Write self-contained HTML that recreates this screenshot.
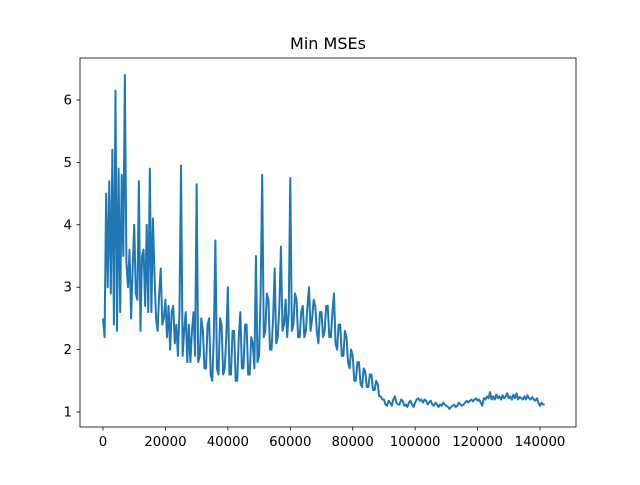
<!DOCTYPE html>
<html><head><meta charset="utf-8"><style>
body{margin:0;background:#fff;}
svg text{font-family:"DejaVu Sans","Liberation Sans",sans-serif;font-size:13.3px;fill:#000;}
</style></head><body>
<svg id="chart" width="640" height="480">
<rect width="640" height="480" fill="#fff"/>
<text x="328" y="49" text-anchor="middle" style="font-size:16px">Min MSEs</text>
<g id="plot"></g>
<rect x="80" y="58" width="496" height="369" fill="none" stroke="#000" stroke-width="0.8"/>
</svg>
<script>
const xTicks=[0,20000,40000,60000,80000,100000,120000,140000];
const yTicks=[1,2,3,4,5,6];
const xStep=500;
const mse=[
2.5,2.2,4.5,3.0,4.7,2.9,5.2,2.4,6.15,2.3,
4.9,2.6,4.8,3.5,6.4,3.4,3.0,3.6,2.5,3.3,
4.0,2.9,2.8,4.7,2.3,3.5,3.6,2.7,4.0,2.6,
4.9,2.6,4.1,3.2,2.5,2.3,2.9,3.3,2.4,2.5,
2.8,2.2,2.7,2.0,2.6,2.7,2.1,2.4,1.9,2.6,
4.95,1.9,2.3,2.6,1.8,2.4,1.8,2.3,2.6,1.9,
4.65,1.8,1.9,2.5,2.3,1.7,1.7,2.4,2.5,1.6,
1.5,2.2,3.75,1.7,1.6,2.5,2.4,1.6,1.7,2.2,
3.0,1.6,1.6,2.3,2.3,1.5,1.5,2.2,2.6,1.7,
1.7,2.4,2.4,1.6,1.6,2.2,2.1,1.7,3.5,1.8,
1.9,2.9,4.8,2.2,2.3,2.9,2.8,2.0,2.0,2.5,
3.3,2.1,2.2,2.7,3.65,2.3,2.4,2.8,2.2,2.6,
4.75,2.3,2.4,2.9,2.8,2.2,2.2,2.6,2.7,2.2,
2.3,2.7,3.0,2.3,2.5,2.8,2.7,2.3,2.1,2.6,
2.6,2.2,2.3,2.7,2.7,2.2,2.2,2.6,2.9,2.1,
2.0,2.4,2.4,1.9,1.9,2.3,2.2,1.8,1.7,2.0,
1.9,1.5,1.5,1.8,1.8,1.45,1.4,1.7,1.65,1.4,
1.4,1.6,1.6,1.35,1.35,1.5,1.45,1.25,1.25,1.2,
1.2,1.12,1.1,1.18,1.15,1.1,1.2,1.25,1.15,1.12,
1.12,1.2,1.18,1.1,1.12,1.08,1.15,1.18,1.12,1.08,
1.15,1.2,1.22,1.18,1.2,1.15,1.2,1.18,1.12,1.15,
1.18,1.12,1.1,1.15,1.12,1.08,1.12,1.1,1.15,1.12,
1.1,1.08,1.05,1.08,1.1,1.12,1.08,1.1,1.15,1.12,
1.1,1.12,1.15,1.18,1.15,1.18,1.2,1.17,1.2,1.22,
1.18,1.2,1.15,1.1,1.22,1.2,1.25,1.22,1.32,1.2,
1.25,1.2,1.28,1.22,1.25,1.2,1.27,1.22,1.25,1.3,
1.22,1.25,1.2,1.28,1.22,1.3,1.2,1.24,1.22,1.2,
1.25,1.2,1.27,1.22,1.2,1.24,1.2,1.18,1.22,1.15,
1.1,1.15,1.12,1.12];
const X=v=>103+v*(437/140000);
const Y=v=>412-(v-1)*62.4;
const plot=document.getElementById('plot');
const NS='http://www.w3.org/2000/svg';
xTicks.forEach(t=>{
 const l=document.createElementNS(NS,'line');
 
 
 l.setAttribute('x1',X(t));l.setAttribute('x2',X(t));l.setAttribute('y1',427);l.setAttribute('y2',430.5);l.setAttribute('stroke','#000');l.setAttribute('stroke-width','0.8');
 plot.appendChild(l);
 const tx=document.createElementNS(NS,'text');
 
 
 tx.setAttribute('x',X(t));tx.setAttribute('y',446);tx.setAttribute('text-anchor','middle');tx.textContent=t;
 plot.appendChild(tx);
});
yTicks.forEach(t=>{
 const l=document.createElementNS(NS,'line');
 
 
 l.setAttribute('x1',76.5);l.setAttribute('x2',80);l.setAttribute('y1',Y(t));l.setAttribute('y2',Y(t));l.setAttribute('stroke','#000');l.setAttribute('stroke-width','0.8');
 plot.appendChild(l);
 const tx=document.createElementNS(NS,'text');
 
 
 tx.setAttribute('x',72);tx.setAttribute('y',Y(t)+4.5);tx.setAttribute('text-anchor','end');tx.textContent=t;
 plot.appendChild(tx);
});
const p=document.createElementNS(NS,'polyline');


p.setAttribute('points',mse.map((v,i)=>X(i*xStep)+','+Y(v)).join(' '));
p.setAttribute('fill','none');p.setAttribute('stroke','#1f77b4');p.setAttribute('stroke-width','2');p.setAttribute('stroke-linejoin','round');
plot.appendChild(p);
</script>
</body></html>
